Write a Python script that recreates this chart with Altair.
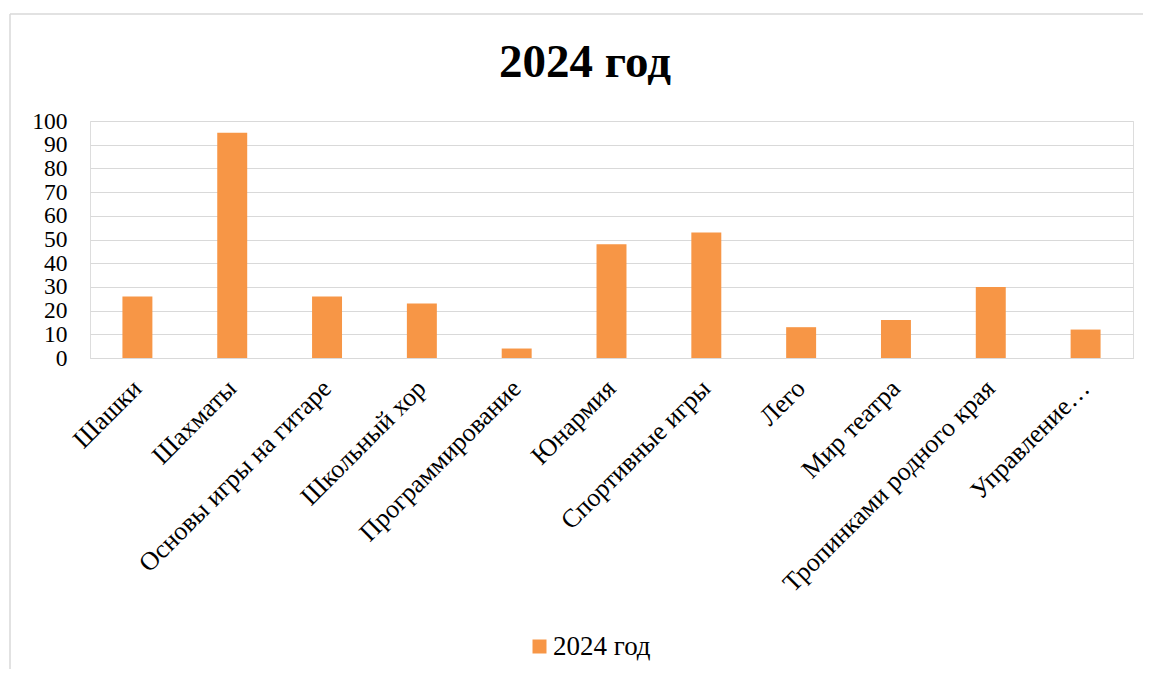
import altair as alt
import pandas as pd

categories = ["Шашки", "Шахматы", "Основы игры на гитаре", "Школьный хор",
              "Программирование", "Юнармия", "Спортивные игры", "Лего",
              "Мир театра", "Тропинками родного края", "Управление…"]
values = [26, 95, 26, 23, 4, 48, 53, 13, 16, 30, 12]
series = "2024 год"
y_ticks = list(range(0, 101, 10))

df = pd.DataFrame({"cat": categories, "val": values, "series": [series] * len(categories)})
title_df = pd.DataFrame({"t": [series]})

FONT = "Liberation Serif"
GRID = "#d9d9d9"
ORANGE = "#F79646"

bars = alt.Chart(df).mark_bar(color=ORANGE).encode(
    x=alt.X("cat:N", sort=categories, title=None,
            scale=alt.Scale(paddingInner=0.684, paddingOuter=0.342),
            axis=alt.Axis(labelAngle=-45, labelAlign="right", labelBaseline="middle",
                          labelFont=FONT, labelFontSize=26, labelColor="black",
                          labelPadding=26, labelLimit=0, ticks=False, grid=False,
                          labelOverlap=False,
                          domainColor=GRID, domainWidth=1)),
    y=alt.Y("val:Q", title=None,
            scale=alt.Scale(domain=[0, 100], nice=False),
            axis=alt.Axis(values=y_ticks, labelFont=FONT, labelFontSize=23.5,
                          labelColor="black", labelPadding=23, ticks=False,
                          labelOverlap=False,
                          domain=False, gridColor=GRID, gridWidth=1)),
    color=alt.Color("series:N", title=None,
                    scale=alt.Scale(domain=[series], range=[ORANGE]),
                    legend=alt.Legend(orient="none", legendX=436, legendY=512,
                                      symbolType="square", symbolSize=196,
                                      symbolStrokeWidth=0, labelFont=FONT,
                                      labelFontSize=27, labelColor="black",
                                      labelOffset=0, padding=0)),
)

title_text = alt.Chart(title_df).mark_text(
    font=FONT, fontSize=47, fontWeight="bold", color="black",
    align="center", baseline="alphabetic").encode(
    text="t:N", x=alt.value(495), y=alt.value(-44))

border_left = alt.Chart(title_df).mark_rule(color=GRID, strokeWidth=1.5).encode(
    x=alt.value(-80), y=alt.value(-107), y2=alt.value(548))
border_top = alt.Chart(title_df).mark_rule(color=GRID, strokeWidth=1.5).encode(
    x=alt.value(-80), x2=alt.value(1060), y=alt.value(-107))

chart = alt.layer(border_left, border_top, title_text, bars).properties(
    width=1043, height=237,
    autosize=alt.AutoSizeParams(type="none"),
    padding={"left": 82, "top": 113, "right": 10, "bottom": 311},
).configure_view(stroke="transparent", strokeWidth=0).configure_axis(
    labelFont=FONT
).configure_legend(labelFont=FONT).configure(background="white")

chart.save("out.html", embed_options={"renderer": "svg", "actions": False})
